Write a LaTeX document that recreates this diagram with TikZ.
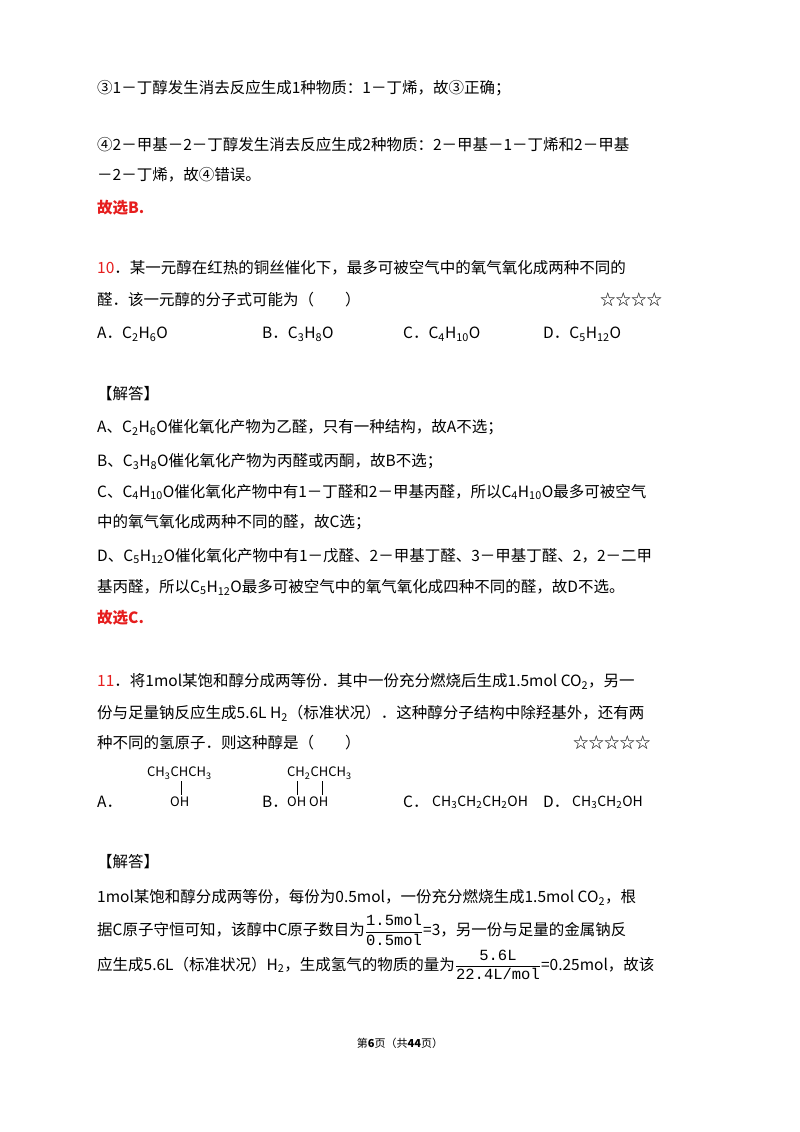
\documentclass[tikz,border=0pt]{standalone}
\usepackage{fontspec}
\setmainfont{Noto Sans CJK SC}
\newfontfamily\monof{Liberation Mono}
\newcommand\sbs[1]{\textsubscript{#1}}
\definecolor{ansred}{RGB}{230,30,30}
\begin{document}
\begin{tikzpicture}[x=1pt,y=1pt,
  ln/.style={anchor=west,inner sep=0pt,font=\fontsize{15.5}{18}\selectfont},
  red/.style={text=ansred,font=\fontsize{15.5}{18}\selectfont\bfseries},
  sm/.style={anchor=west,inner sep=0pt,font=\fontsize{14}{16}\selectfont},
  chem/.style={anchor=west,inner sep=0pt,font=\fontsize{13}{15}\selectfont}]
\useasboundingbox[fill=white] (0,0) rectangle (800,-1132);
\node[ln] (l1) at (97,-88) {③1－丁醇发生消去反应生成1种物质：1－丁烯，故③正确；};
\node[ln] (l2) at (97,-145) {④2－甲基－2－丁醇发生消去反应生成2种物质：2－甲基－1－丁烯和2－甲基};
\node[ln] (l3) at (97,-175) {－2－丁烯，故④错误。};
\node[ln,red] (l4) at (97,-208) {故选B.};
\node[ln] (q10) at (97,-268) {\textcolor{ansred}{10}．某一元醇在红热的铜丝催化下，最多可被空气中的氧气氧化成两种不同的};
\node[ln] (q10b) at (97,-300) {醛．该一元醇的分子式可能为（　　）};
\node[ln] (st1) at (600,-300) {☆☆☆☆};
\node[ln] (oa) at (97,-334) {A．C\sbs{2}H\sbs{6}O};
\node[ln] (ob) at (262,-334) {B．C\sbs{3}H\sbs{8}O};
\node[ln] (oc) at (403,-334) {C．C\sbs{4}H\sbs{10}O};
\node[ln] (od) at (543,-334) {D．C\sbs{5}H\sbs{12}O};
\node[ln] (j1) at (97,-394) {【解答】};
\node[ln] (a1) at (97,-428) {A、C\sbs{2}H\sbs{6}O催化氧化产物为乙醛，只有一种结构，故A不选；};
\node[ln] (a2) at (97,-462) {B、C\sbs{3}H\sbs{8}O催化氧化产物为丙醛或丙酮，故B不选；};
\node[ln] (a3) at (97,-492) {C、C\sbs{4}H\sbs{10}O催化氧化产物中有1－丁醛和2－甲基丙醛，所以C\sbs{4}H\sbs{10}O最多可被空气};
\node[ln] (a4) at (97,-522) {中的氧气氧化成两种不同的醛，故C选；};
\node[ln] (a5) at (97,-556) {D、C\sbs{5}H\sbs{12}O催化氧化产物中有1－戊醛、2－甲基丁醛、3－甲基丁醛、2，2－二甲};
\node[ln] (a6) at (97,-587) {基丙醛，所以C\sbs{5}H\sbs{12}O最多可被空气中的氧气氧化成四种不同的醛，故D不选。};
\node[ln,red] (a7) at (97,-618) {故选C.};
\node[ln] (q11) at (97,-681) {\textcolor{ansred}{11}．将1mol某饱和醇分成两等份．其中一份充分燃烧后生成1.5mol CO\sbs{2}，另一};
\node[ln] (q11b) at (97,-713) {份与足量钠反应生成5.6L H\sbs{2}（标准状况）．这种醇分子结构中除羟基外，还有两};
\node[ln] (q11c) at (97,-743) {种不同的氢原子．则这种醇是（　　）};
\node[ln] (st2) at (573,-743) {☆☆☆☆☆};
\node[chem] (sa) at (147,-773) {CH\sbs{3}CHCH\sbs{3}};
\node[chem] (sao) at (170,-802) {OH};
\draw (181,-781) -- (181,-795);
\node[ln] (pa) at (97,-802) {A．};
\node[chem] (sb) at (287,-773) {CH\sbs{2}CHCH\sbs{3}};
\node[chem] (sbo) at (287,-802) {OH OH};
\draw (297,-781) -- (297,-795);
\draw (322,-781) -- (322,-795);
\node[ln] (pb) at (262,-802) {B．};
\node[ln] (pc) at (403,-802) {C．};
\node[sm] (pcf) at (432,-802) {CH\sbs{3}CH\sbs{2}CH\sbs{2}OH};
\node[ln] (pd) at (543,-802) {D．};
\node[sm] (pdf) at (572,-802) {CH\sbs{3}CH\sbs{2}OH};
\node[ln] (j2) at (97,-862) {【解答】};
\node[ln] (b1) at (97,-897) {1mol某饱和醇分成两等份，每份为0.5mol，一份充分燃烧生成1.5mol CO\sbs{2}，根};
\node[ln] (b2) at (97,-930) {据C原子守恒可知，该醇中C原子数目为$\displaystyle\frac{\mbox{\monof 1.5mol}}{\mbox{\monof 0.5mol}}$=3，另一份与足量的金属钠反};
\node[ln] (b3) at (97,-965) {应生成5.6L（标准状况）H\sbs{2}，生成氢气的物质的量为$\displaystyle\frac{\mbox{\monof 5.6L}}{\mbox{\monof 22.4L/mol}}$=0.25mol，故该};
\node[anchor=center,inner sep=0pt,font=\fontsize{11}{13}\selectfont] (ft) at (400,-1043) {第\textbf{6}页（共\textbf{44}页）};
\end{tikzpicture}
\end{document}
